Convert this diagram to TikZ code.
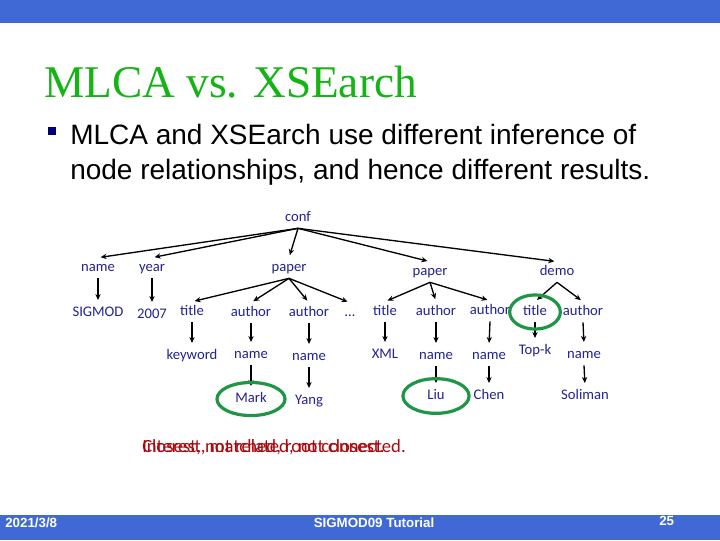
\documentclass[tikz,border=0pt]{standalone}
\usepackage{fontspec}
\setmainfont{Liberation Sans}
\newfontfamily\serifttl{Liberation Serif}
\newfontfamily\treefnt{Carlito}
\usetikzlibrary{arrows.meta}
\definecolor{barblue}{RGB}{65,105,214}
\definecolor{ttlgreen}{RGB}{20,180,20}
\definecolor{treeblue}{RGB}{35,35,145}
\definecolor{ringgreen}{RGB}{30,150,70}
\definecolor{notered}{RGB}{165,10,15}
\definecolor{bulletnavy}{RGB}{0,0,120}

\begin{document}
\begin{tikzpicture}[x=0.75pt, y=-0.75pt, line width=0.4pt,
  tn/.style={font=\treefnt\fontsize{11}{12}\selectfont, text=treeblue,
    inner sep=1pt, outer sep=2pt, text height=7.5pt, text depth=2pt},
  edge/.style={-{Stealth[length=4.5pt,width=4pt]}, line width=1pt, shorten >=2pt},
  ring/.style={draw=ringgreen, line width=2.4pt}]
  \useasboundingbox (0,0) rectangle (720,540);
  % slide frame
  \fill[white] (0,0) rectangle (720,540);
  \fill[barblue] (0,0) rectangle (720,23);
  \fill[barblue] (0,515) rectangle (720,540);
  \node[anchor=base west, inner sep=0pt, text=ttlgreen,
    font=\serifttl\fontsize{34}{40}\selectfont] (ttl) at (44,97) {MLCA vs. XSEarch};
  \fill[bulletnavy] (48,127) rectangle (56,135);
  \node[anchor=base west, inner sep=0pt, font=\fontsize{21}{25}\selectfont] (blA) at (70,144)
    {MLCA and XSEarch use different inference of};
  \node[anchor=base west, inner sep=0pt, font=\fontsize{21}{25}\selectfont] (blB) at (70,179)
    {node relationships, and hence different results.};
  % tree
  \node[tn] (conf) at (298,218) {conf};
  \node[tn] (nm) at (98,268) {name};
  \node[tn] (yr) at (152,268) {year};
  \node[tn] (pA) at (289,268) {paper};
  \node[tn] (pB) at (430,272) {paper};
  \node[tn] (demo) at (557,272) {demo};
  \node[tn] (sig) at (98,313) {SIGMOD};
  \node[tn] (yv) at (152,315) {2007};
  \node[tn] (tA) at (192,312) {title};
  \node[tn] (aA1) at (251,313) {author};
  \node[tn] (aA2) at (309,313) {author};
  \node[tn] (dots) at (350,313) {…};
  \node[tn] (tB) at (385,312) {title};
  \node[tn] (aB1) at (436,312) {author};
  \node[tn] (aB2) at (490,311) {author};
  \node[tn] (tC) at (535,312) {title};
  \node[tn] (aC) at (583,312) {author};
  \node[tn] (kw) at (192,356) {keyword};
  \node[tn] (nA1) at (251,355) {name};
  \node[tn] (nA2) at (309,357) {name};
  \node[tn] (xml) at (385,355) {XML};
  \node[tn] (nB1) at (436,356) {name};
  \node[tn] (nB2) at (489,356) {name};
  \node[tn] (topk) at (535,351) {Top-k};
  \node[tn] (nC) at (584,355) {name};
  \node[tn] (mark) at (251,399) {Mark};
  \node[tn] (yang) at (309,401) {Yang};
  \node[tn] (liu) at (436,396) {Liu};
  \node[tn] (chen) at (489,396) {Chen};
  \node[tn] (soliman) at (585,396) {Soliman};
  % edges
  \foreach \c in {nm,yr,pA,pB,demo} \draw[edge] (conf.south) -- (\c.north);
  \foreach \c in {tA,aA1,aA2,dots} \draw[edge] (pA.south) -- (\c.north);
  \foreach \c in {tB,aB1,aB2} \draw[edge] (pB.south) -- (\c.north);
  \foreach \c in {tC,aC} \draw[edge] (demo.south) -- (\c.north);
  \foreach \p/\c in {nm/sig, yr/yv, tA/kw, aA1/nA1, aA2/nA2, tB/xml, aB1/nB1,
    aB2/nB2, tC/topk, aC/nC, nA1/mark, nA2/yang, nB1/liu, nB2/chen, nC/soliman}
    \draw[edge] (\p.south) -- (\c.north);
  % matches
  \draw[ring] (mark) ellipse [x radius=25.5pt, y radius=12.4pt];
  \draw[ring] (liu) ellipse [x radius=24.8pt, y radius=13pt];
  \draw[ring] (tC) ellipse [x radius=19pt, y radius=12.8pt];
  % overlapping notes
  \node[anchor=base west, inner sep=0pt, text=notered,
    font=\treefnt\fontsize{14}{16}\selectfont] (noteA) at (142,452) {Closest, not related, not closest.};
  \node[anchor=base west, inner sep=0pt, text=notered,
    font=\treefnt\fontsize{14}{16}\selectfont] (noteB) at (142,452) {Interest, matched, root connected.};
  % footer
  \node[anchor=west, inner sep=0pt, text=white, font=\bfseries\fontsize{10}{12}\selectfont]
    (date) at (5,523) {2021/3/8};
  \node[inner sep=0pt, text=white, font=\bfseries\fontsize{10}{12}\selectfont]
    (foot) at (374,523) {SIGMOD09 Tutorial};
  \node[anchor=west, inner sep=0pt, text=white, font=\bfseries\fontsize{10}{12}\selectfont]
    (pg) at (659,521) {25};
\end{tikzpicture}
\end{document}
